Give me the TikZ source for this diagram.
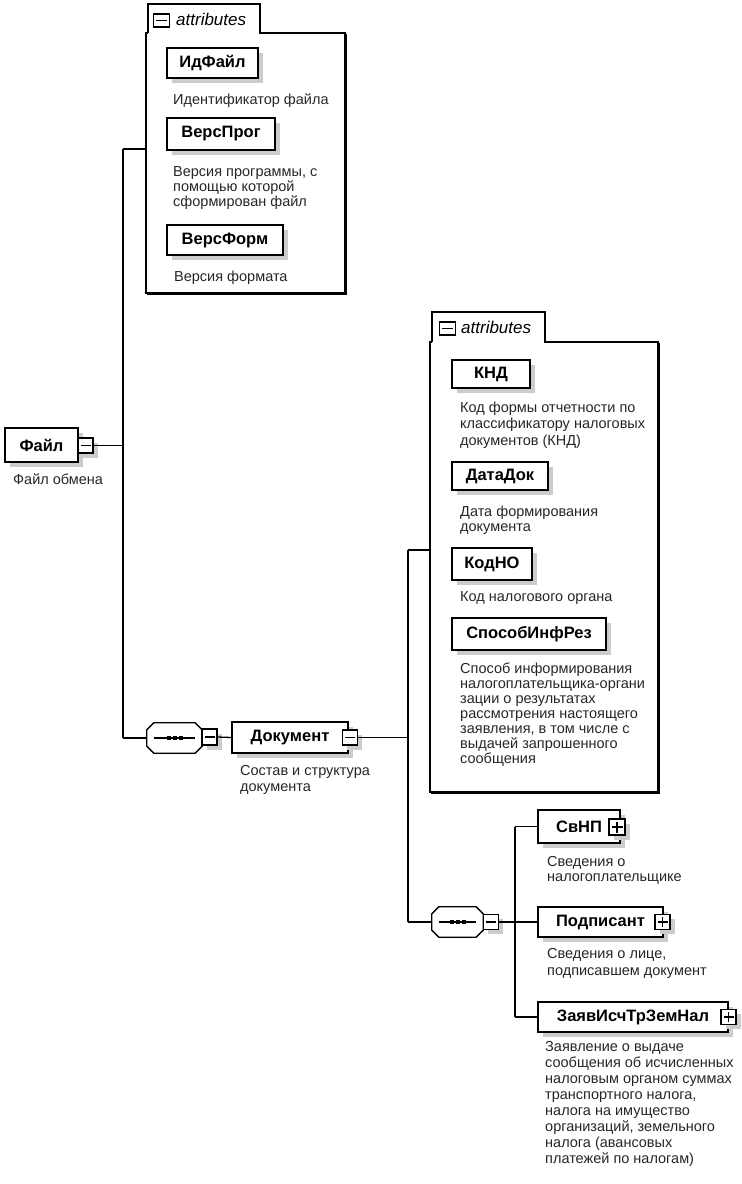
\documentclass[tikz,border=0pt]{standalone}
\usepackage{fontspec}
\setmainfont{Liberation Sans}
\usetikzlibrary{shadows}
\begin{document}
\begin{tikzpicture}[x=1pt,y=-1pt,
  conn/.style={line width=1.3pt},
  shade/.style={general shadow={fill=gray!40, shadow xshift=4.5pt, shadow yshift=-4.5pt}},
  elem/.style={draw, fill=white, line width=1.3pt, inner sep=0pt, shade,
    font=\fontsize{16.5}{18}\selectfont\bfseries},
  desc/.style={anchor=base west, align=left, inner sep=0pt,
    font=\fontsize{14.5}{#1}\selectfont, text=black!85},
  desc/.default=15.5,
  expbox/.style={draw, fill=white, line width=1.3pt, minimum width=15pt,
    minimum height=15pt, inner sep=0pt},
  minusbox/.style={expbox, path picture={\draw[line width=1.2pt]
    ([xshift=2.5pt]path picture bounding box.west) -- ([xshift=-2.5pt]path picture bounding box.east);}},
  plusbox/.style={expbox, path picture={\draw[line width=1.2pt]
    ([xshift=2.5pt]path picture bounding box.west) -- ([xshift=-2.5pt]path picture bounding box.east);
    \draw[line width=1.2pt] ([yshift=-2.5pt]path picture bounding box.north) -- ([yshift=2.5pt]path picture bounding box.south);}},
  seqbox/.style={draw=none, inner sep=0pt},
  octo/.style={line width=1.3pt, fill=white},
  octoshade/.style={fill=gray!40, xshift=4.5pt, yshift=-4.5pt},
  attrlabel/.style={anchor=base west, inner sep=0pt, font=\fontsize{17}{18}\selectfont\itshape},
  attrframe/.style={line width=1.3pt}
]
\useasboundingbox (0,0) rectangle (742,1184);

% ---------- attributes box 1 ----------
\draw[attrframe] (148,33) -- (148,4) -- (260,4) -- (260,33) -- (345,33) -- (345,293) -- (146,293) -- (146,33) -- (148,33);
\draw[line width=0.8pt] (346.5,34) -- (346.5,294.5) -- (147,294.5);
\node[minusbox, minimum width=16pt, minimum height=13pt] (am1) at (161.5,20.5) {};
\node[attrlabel] (at1) at (176,25) {attributes};
\coordinate (a1w) at (146,149);

\node[elem, minimum width=91pt, minimum height=30pt] (idf) at (212.5,63) {ИдФайл};
\node[desc] (didf) at (173,104) {Идентификатор файла};
\node[elem, minimum width=108pt, minimum height=32pt] (vp) at (221,134) {ВерсПрог};
\node[desc=14.8] (dvp) at (173,206) {Версия программы, с\\помощью которой\\сформирован файл};
\node[elem, minimum width=116pt, minimum height=30pt] (vf) at (225,240) {ВерсФорм};
\node[desc] (dvf) at (174,281) {Версия формата};

% ---------- root ----------
\node[elem, minimum width=73pt, minimum height=34pt] (fail) at (41.5,445) {Файл};
\node[minusbox, shade] (mfail) at (85.5,445.5) {};
\node[desc] (dfail) at (13,484) {Файл обмена};
\coordinate (j1t) at (123,149);
\coordinate (j1m) at (123,445.5);
\coordinate (j1b) at (123,738);

% ---------- sequence 1 ----------
\node[seqbox, minimum width=55pt, minimum height=30pt] (seq1) at (174.5,738) {};
\fill[octoshade] ([xshift=7pt]seq1.north west) -- ([xshift=-7pt]seq1.north east) -- ([yshift=-7pt]seq1.north east) -- ([yshift=7pt]seq1.south east) -- ([xshift=-7pt]seq1.south east) -- ([xshift=7pt]seq1.south west) -- ([yshift=7pt]seq1.south west) -- ([yshift=-7pt]seq1.north west) -- cycle;
\draw[octo] ([xshift=7pt]seq1.north west) -- ([xshift=-7pt]seq1.north east) -- ([yshift=-7pt]seq1.north east) -- ([yshift=7pt]seq1.south east) -- ([xshift=-7pt]seq1.south east) -- ([xshift=7pt]seq1.south west) -- ([yshift=7pt]seq1.south west) -- ([yshift=-7pt]seq1.north west) -- cycle;
\draw[line width=1.1pt] ([xshift=7pt]seq1.west) -- ([xshift=-7pt]seq1.east);
\foreach \dx in {-6,0,6} \fill ([xshift=\dx pt]seq1.center) ++(-2pt,-2pt) rectangle +(4pt,4pt);
\node[minusbox, shade, minimum height=16pt] (mseq1) at (209.5,737) {};

% ---------- Документ ----------
\node[elem, minimum width=116pt, minimum height=31pt] (doc) at (290,737.5) {Документ};
\node[minusbox, shade] (mdoc) at (350,737.5) {};
\node[desc] (ddoc) at (240,791) {Состав и структура\\документа};
\coordinate (j2t) at (408,550);
\coordinate (j2m) at (408,737.5);
\coordinate (j2b) at (408,922);

% ---------- attributes box 2 ----------
\draw[attrframe] (432,342) -- (432,312) -- (545,312) -- (545,342) -- (658,342) -- (658,792) -- (430,792) -- (430,342) -- (432,342);
\draw[line width=0.8pt] (659.5,343) -- (659.5,793.5) -- (431,793.5);
\node[minusbox, minimum width=16pt, minimum height=13pt] (am2) at (447.5,328.5) {};
\node[attrlabel] (at2) at (461,333) {attributes};
\coordinate (a2w) at (430,550);

\node[elem, minimum width=78pt, minimum height=28pt] (knd) at (491,374) {КНД};
\node[desc=16.5] (dknd) at (460,445) {Код формы отчетности по\\классификатору налоговых\\документов (КНД)};
\node[elem, minimum width=96pt, minimum height=28pt] (dd) at (500,476) {ДатаДок};
\node[desc] (ddd) at (460,531.5) {Дата формирования\\документа};
\node[elem, minimum width=80pt, minimum height=32pt] (kno) at (492,564) {КодНО};
\node[desc] (dkno) at (460,601.5) {Код налогового органа};
\node[elem, minimum width=154pt, minimum height=32pt] (sir) at (529,634) {СпособИнфРез};
\node[desc=15] (dsir) at (460,763.5) {Способ информирования\\налогоплательщика-органи\\зации о результатах\\рассмотрения настоящего\\заявления, в том числе с\\выдачей запрошенного\\сообщения};

% ---------- sequence 2 ----------
\node[seqbox, minimum width=51pt, minimum height=30pt] (seq2) at (457.5,922) {};
\fill[octoshade] ([xshift=7pt]seq2.north west) -- ([xshift=-7pt]seq2.north east) -- ([yshift=-7pt]seq2.north east) -- ([yshift=7pt]seq2.south east) -- ([xshift=-7pt]seq2.south east) -- ([xshift=7pt]seq2.south west) -- ([yshift=7pt]seq2.south west) -- ([yshift=-7pt]seq2.north west) -- cycle;
\draw[octo] ([xshift=7pt]seq2.north west) -- ([xshift=-7pt]seq2.north east) -- ([yshift=-7pt]seq2.north east) -- ([yshift=7pt]seq2.south east) -- ([xshift=-7pt]seq2.south east) -- ([xshift=7pt]seq2.south west) -- ([yshift=7pt]seq2.south west) -- ([yshift=-7pt]seq2.north west) -- cycle;
\draw[line width=1.1pt] ([xshift=7pt]seq2.west) -- ([xshift=-7pt]seq2.east);
\foreach \dx in {-6,0,6} \fill ([xshift=\dx pt]seq2.center) ++(-2pt,-2pt) rectangle +(4pt,4pt);
\node[minusbox, shade] (mseq2) at (491,922) {};
\coordinate (j3t) at (515,826.5);
\coordinate (j3m) at (515,922);
\coordinate (j3b) at (515,1017);

% ---------- children ----------
\node[elem, minimum width=82pt, minimum height=33pt] (svnp) at (579,826.5) {СвНП};
\node[plusbox, shade, minimum width=16pt, minimum height=16pt] (psvnp) at (617,827) {};
\node[desc] (dsvnp) at (547,881.5) {Сведения о\\налогоплательщике};
\node[elem, minimum width=125pt, minimum height=30pt] (pod) at (600.5,922) {Подписант};
\node[plusbox, shade] (ppod) at (662.5,922) {};
\node[desc=16.5] (dpod) at (547,975) {Сведения о лице,\\подписавшем документ};
\node[elem, minimum width=190pt, minimum height=30pt] (zayav) at (633,1017) {ЗаявИсчТрЗемНал};
\node[plusbox, shade] (pzayav) at (728.5,1017) {};
\node[desc=16] (dzayav) at (545,1163.5) {Заявление о выдаче\\сообщения об исчисленных\\налоговым органом суммах\\транспортного налога,\\налога на имущество\\организаций, земельного\\налога (авансовых\\платежей по налогам)};

% ---------- connectors ----------
\draw[conn] (mfail.east) -- (j1m);
\draw[conn] (j1t) -- (j1b);
\draw[conn] (j1t) -- (a1w);
\draw[conn] (j1b) -- (seq1.west);
\draw[conn] (mseq1.east) -- (doc.west);
\draw[conn] (mdoc.east) -- (j2m);
\draw[conn] (j2t) -- (j2b);
\draw[conn] (j2t) -- (a2w);
\draw[conn] (j2b) -- (seq2.west);
\draw[conn] (mseq2.east) -- (j3m);
\draw[conn] (j3t) -- (j3b);
\draw[conn] (j3t) -- (svnp.west);
\draw[conn] (j3m) -- (pod.west);
\draw[conn] (j3b) -- (zayav.west);
\end{tikzpicture}
\end{document}
